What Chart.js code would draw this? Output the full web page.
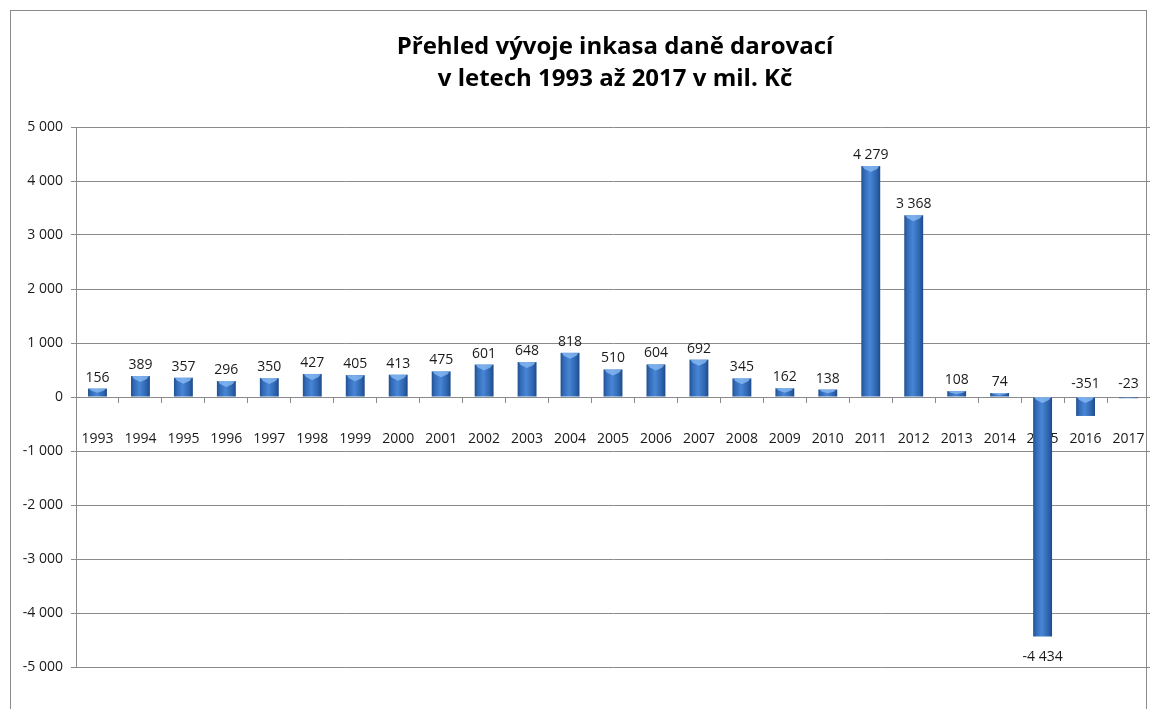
<!DOCTYPE html>
<html>
<head>
<meta charset="utf-8">
<script src="https://cdn.jsdelivr.net/npm/chart.js@4.4.1/dist/chart.umd.min.js"></script>
<style>
  html, body { margin: 0; padding: 0; background: #fff; }
  #wrap { position: relative; width: 1150px; height: 709px; overflow: hidden; }
  #frame { position: absolute; left: 10px; top: 10px; width: 1137px; height: 720px;
           border: 1px solid #8a8a8a; box-sizing: border-box; }
  canvas { position: absolute; left: 0; top: 0; }
  #title { position: absolute; left: 80px; width: 1070px; top: 29px; text-align: center;
           font: bold 24px 'Open Sans', 'Noto Sans', sans-serif; line-height: 32px; color: #000; }
</style>
</head>
<body>
<div id="wrap">
  <div id="frame"></div>
  <canvas id="chart" width="1150" height="709"></canvas>
  <div id="title"></div>
</div>
<script>
const TITLE = ["Přehled vývoje inkasa daně darovací", "v letech 1993 až 2017 v mil. Kč"];

const years = ["1993","1994","1995","1996","1997","1998","1999","2000","2001","2002",
  "2003","2004","2005","2006","2007","2008","2009","2010","2011","2012",
  "2013","2014","2015","2016","2017"];

const inkaso = [156, 389, 357, 296, 350, 427, 405, 413, 475, 601,
  648, 818, 510, 604, 692, 345, 162, 138, 4279, 3368,
  108, 74, -4434, -351, -23];

const Y_MIN = -5000;
const Y_MAX = 5000;
const Y_STEP = 1000;

const FONT = "'Open Sans', 'Noto Sans', sans-serif";

document.getElementById("title").innerHTML = TITLE.join("<br>");

// mezera jako oddělovač tisíců (5 000, -4 434)
function fmtCz(v) {
  const s = String(Math.abs(Math.round(v))).replace(/\B(?=(\d{3})+(?!\d))/g, " ");
  return (v < 0 ? "-" : "") + s;
}

// válcový vzhled sloupců: vodorovný gradient podle polohy každého sloupce
const barGradient = {
  id: "barGradient",
  beforeDatasetsDraw(chart) {
    const ctx = chart.ctx;
    chart.getDatasetMeta(0).data.forEach(el => {
      const x0 = el.x - el.width / 2, x1 = el.x + el.width / 2;
      const g = ctx.createLinearGradient(x0, 0, x1, 0);
      g.addColorStop(0, "#21508f");
      g.addColorStop(0.15, "#3169b6");
      g.addColorStop(0.45, "#4886d5");
      g.addColorStop(0.8, "#2e65b0");
      g.addColorStop(1, "#1f4a88");
      el.options = Object.assign({}, el.options, { backgroundColor: g });
    });
  },
  afterDatasetsDraw(chart) {
    // světlejší "víčko" nahoře na sloupci (jako v Excelu)
    const ctx = chart.ctx;
    const base = chart.scales.y.getPixelForValue(0);
    ctx.save();
    chart.getDatasetMeta(0).data.forEach(el => {
      const h = Math.abs(el.y - base);
      if (h < 3) return;
      const w = el.width / 2;
      const top = Math.min(el.y, base);
      const cap = Math.min(6, h / 2);
      ctx.fillStyle = "rgba(140,190,245,0.75)";
      ctx.beginPath();
      ctx.moveTo(el.x - w + 1, top);
      ctx.lineTo(el.x + w - 1, top);
      ctx.lineTo(el.x + w - 3, top + cap * 0.5);
      ctx.lineTo(el.x, top + cap);
      ctx.lineTo(el.x - w + 3, top + cap * 0.5);
      ctx.closePath();
      ctx.fill();
    });
    ctx.restore();
  }
};

const valueLabels = {
  id: "valueLabels",
  afterDatasetsDraw(chart) {
    const ctx = chart.ctx;
    const base = chart.scales.y.getPixelForValue(0);
    ctx.save();
    ctx.font = "14px " + FONT;
    ctx.fillStyle = "#1a1a1a";
    ctx.textAlign = "center";
    chart.getDatasetMeta(0).data.forEach((el, i) => {
      const v = inkaso[i];
      if (v >= 0) {
        ctx.textBaseline = "bottom";
        ctx.fillText(fmtCz(v), el.x, el.y - 4);
      } else if (el.y - base < 50) {
        // krátké záporné sloupce: popisek nad osou, aby nepřekryl roky
        ctx.textBaseline = "bottom";
        ctx.fillText(fmtCz(v), el.x, base - 6);
      } else {
        ctx.textBaseline = "top";
        ctx.fillText(fmtCz(v), el.x, el.y + 14);
      }
    });
    ctx.restore();
  }
};

new Chart(document.getElementById("chart"), {
  type: "bar",
  data: {
    labels: years,
    datasets: [{
      data: inkaso,
      backgroundColor: "#3572c0",
      borderWidth: 0,
      categoryPercentage: 1,
      barPercentage: 0.44
    }]
  },
  options: {
    responsive: false,
    animation: false,
    layout: { padding: { top: 127, left: 10, right: 0, bottom: 42 } },
    plugins: {
      legend: { display: false },
      tooltip: { enabled: false },
      title: { display: false }
    },
    scales: {
      x: {
        position: { y: 0 },
        afterFit(scale) { scale.paddingLeft = 0; scale.paddingRight = 0; },
        grid: { display: true, drawOnChartArea: false, tickLength: 5, color: "#8a8a8a" },
        border: { display: true, color: "#8a8a8a" },
        ticks: { color: "#1a1a1a", font: { family: FONT, size: 14 }, padding: 29,
                 maxRotation: 0, autoSkip: false }
      },
      y: {
        min: Y_MIN,
        max: Y_MAX,
        afterFit(scale) { scale.width = 66; scale.paddingTop = 0; scale.paddingBottom = 0; },
        grid: { color: "#8a8a8a", tickLength: 5 },
        border: { display: true, color: "#8a8a8a" },
        ticks: {
          stepSize: Y_STEP,
          color: "#1a1a1a",
          font: { family: FONT, size: 14 },
          padding: 8,
          callback: v => fmtCz(v)
        }
      }
    }
  },
  plugins: [barGradient, valueLabels]
});
</script>
</body>
</html>
